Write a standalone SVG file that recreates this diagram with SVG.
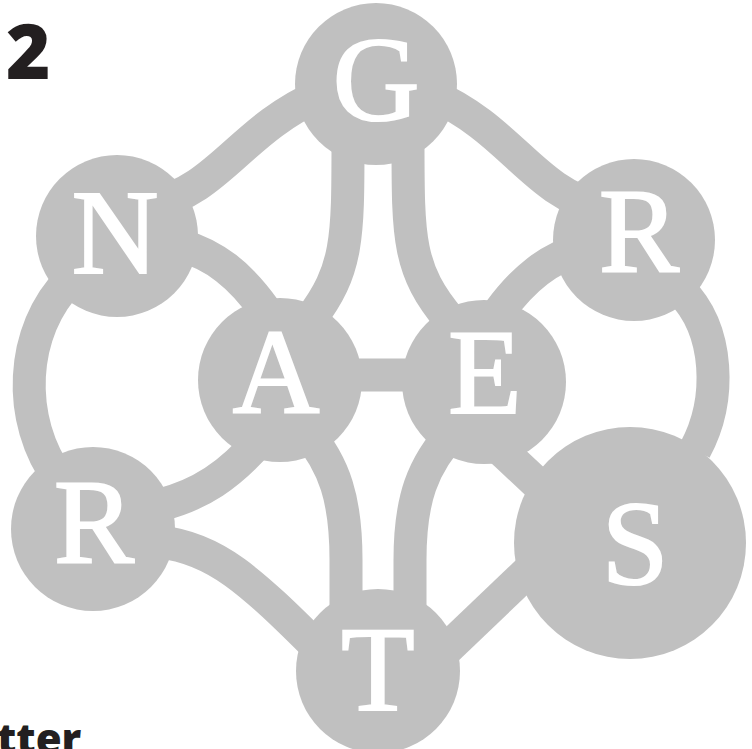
<svg xmlns="http://www.w3.org/2000/svg" width="752" height="749" viewBox="0 0 752 749">
<style>
.c{fill:#c0c0c0}
.e{fill:none;stroke:#c0c0c0;stroke-width:33}
.l{font-family:"Liberation Serif",serif;font-size:120px;fill:#fff;stroke:#fff;stroke-width:2.2;text-anchor:middle}
.k{font-family:"Open Sans","Liberation Sans",sans-serif;fill:#231f20;font-weight:800}
</style>
<rect width="752" height="749" fill="#fff"/>
<g id="connectors">
<path class="e" d="M150 205 C220 190 240 130 320 95"/>
<path class="e" d="M602 208 C532 192 512 130 432 95"/>
<path class="e" d="M70 280 C20 330 15 420 60 480"/>
<path class="e" d="M680 290 C720 330 722 400 695 450"/>
<path class="e" d="M180 245 C215 255 240 275 265 310"/>
<path class="e" d="M584 248 C549 258 524 278 499 312"/>
<path class="e" d="M280 375 L484 375"/>
<path class="e" d="M348 140 C348 240 348 270 310 320"/>
<path class="e" d="M408 140 C408 240 408 270 450 320"/>
<path class="e" d="M260 440 C230 475 200 495 160 505"/>
<path class="e" d="M160 542 C215 548 250 580 320 650"/>
<path class="e" d="M305 430 C335 465 346 500 346 560 L346 620"/>
<path class="e" d="M455 430 C422 465 410 500 410 560 L410 620"/>
<path class="e" d="M480 430 L560 505"/>
<path class="e" d="M430 665 L540 560"/>
</g>
<g id="node-G"><circle class="c" cx="376" cy="84" r="81"/><text class="l" x="376" y="120">G</text></g>
<g id="node-N"><circle class="c" cx="117" cy="236" r="81"/><text class="l" x="115" y="273">N</text></g>
<g id="node-R1"><circle class="c" cx="634" cy="240" r="81"/><text class="l" x="639" y="272">R</text></g>
<g id="node-A"><circle class="c" cx="280" cy="380" r="82"/><text class="l" x="276" y="413">A</text></g>
<g id="node-E"><circle class="c" cx="484" cy="382" r="82"/><text class="l" x="485" y="413">E</text></g>
<g id="node-R2"><circle class="c" cx="93" cy="529" r="82"/><text class="l" x="94" y="563">R</text></g>
<g id="node-S"><circle class="c" cx="630" cy="543" r="116"/><text class="l" x="635" y="584">S</text></g>
<g id="node-T"><circle class="c" cx="378" cy="671" r="82"/><text class="l" x="378" y="710">T</text></g>
<text class="k" x="6" y="79" font-size="76">2</text>
<text class="k" x="-3" y="754" font-size="42">tter</text>
</svg>
